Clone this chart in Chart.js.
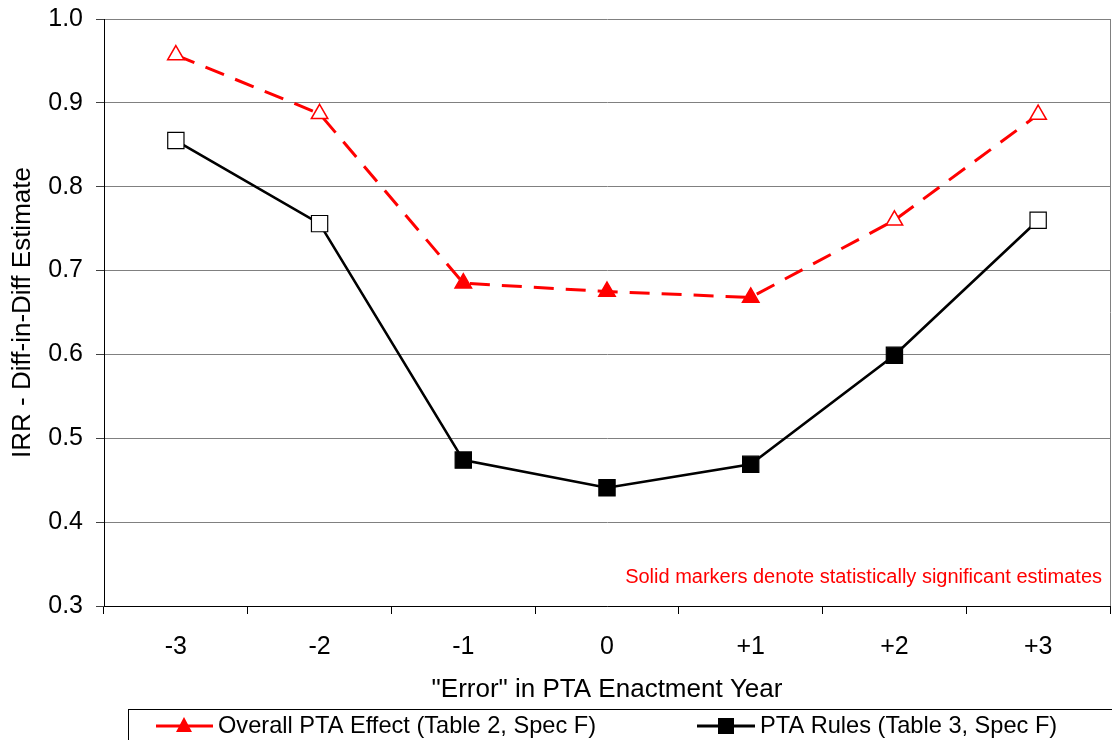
<!DOCTYPE html>
<html>
<head>
<meta charset="utf-8">
<script src="https://cdn.jsdelivr.net/npm/chart.js@4/dist/chart.umd.min.js"></script>
<style>
  html, body { margin: 0; padding: 0; background: #ffffff; }
  #wrap { width: 1112px; height: 740px; position: relative; }
</style>
</head>
<body>
<div id="wrap"><canvas id="c" width="1112" height="740"></canvas></div>
<script>
const categories = ['-3', '-2', '-1', '0', '+1', '+2', '+3'];
const overallEffect = [0.957, 0.887, 0.685, 0.675, 0.668, 0.760, 0.886];
const ptaRules = [0.855, 0.756, 0.474, 0.441, 0.469, 0.599, 0.760];
const overallSignificant = [false, false, true, true, true, false, false];
const rulesSignificant = [false, false, true, true, true, true, false];
const yMin = 0.3, yMax = 1.0, yStep = 0.1;
const seriesNames = ['Overall PTA Effect (Table 2, Spec F)', 'PTA Rules (Table 3, Spec F)'];
const noteText = 'Solid markers denote statistically significant estimates';
const xTitle = '"Error" in PTA Enactment Year';
const yTitle = 'IRR - Diff-in-Diff Estimate';

const FONT = "'Liberation Sans', Arial, Helvetica, sans-serif";
const RED = '#ff0000';
const BLACK = '#000000';

const extrasPlugin = {
  id: 'extras',
  afterDraw(chart) {
    const ctx = chart.ctx;
    const a = chart.chartArea;
    ctx.save();
    // right border of plot area
    ctx.strokeStyle = '#808080';
    ctx.lineWidth = 1;
    ctx.beginPath();
    ctx.moveTo(Math.round(a.right) + 0.5, a.top);
    ctx.lineTo(Math.round(a.right) + 0.5, a.bottom);
    ctx.stroke();
    // note
    ctx.fillStyle = RED;
    ctx.font = '20px ' + FONT;
    ctx.textAlign = 'right';
    ctx.textBaseline = 'middle';
    ctx.fillText(noteText, 1102, 577);
    // legend box
    ctx.strokeStyle = BLACK;
    ctx.lineWidth = 1;
    ctx.strokeRect(128.5, 709.5, 1100, 60);
    const ly = 726;
    // red item
    ctx.strokeStyle = RED;
    ctx.lineWidth = 3;
    ctx.beginPath(); ctx.moveTo(156, ly); ctx.lineTo(213, ly); ctx.stroke();
    ctx.fillStyle = RED;
    ctx.beginPath();
    ctx.moveTo(184, ly - 9); ctx.lineTo(192, ly + 6); ctx.lineTo(176, ly + 6); ctx.closePath();
    ctx.fill();
    ctx.fillStyle = BLACK;
    ctx.font = '23.6px ' + FONT;
    ctx.textAlign = 'left';
    ctx.fillText(seriesNames[0], 218, ly);
    // black item
    ctx.strokeStyle = BLACK;
    ctx.lineWidth = 3;
    ctx.beginPath(); ctx.moveTo(697, ly); ctx.lineTo(755, ly); ctx.stroke();
    ctx.fillRect(718, ly - 8, 16, 16);
    ctx.fillText(seriesNames[1], 760, ly);
    ctx.restore();
  }
};

new Chart(document.getElementById('c'), {
  type: 'line',
  data: {
    labels: categories,
    datasets: [
      {
        label: seriesNames[0],
        data: overallEffect,
        borderColor: RED,
        borderWidth: 3,
        borderDash: [20, 12],
        pointStyle: 'triangle',
        pointRadius: 9.5,
        pointHoverRadius: 9.5,
        pointBorderWidth: 1.5,
        pointBorderColor: RED,
        pointBackgroundColor: overallSignificant.map(s => s ? RED : '#ffffff'),
        tension: 0,
        fill: false
      },
      {
        label: seriesNames[1],
        data: ptaRules,
        borderColor: BLACK,
        borderWidth: 2.6,
        pointStyle: 'rect',
        pointRadius: 11.5,
        pointHoverRadius: 11.5,
        pointBorderWidth: 1.2,
        pointBorderColor: BLACK,
        pointBackgroundColor: rulesSignificant.map(s => s ? BLACK : '#ffffff'),
        tension: 0,
        fill: false
      }
    ]
  },
  options: {
    responsive: false,
    animation: false,
    layout: { autoPadding: false, padding: { left: 0, right: 2, top: 19, bottom: 34 } },
    plugins: {
      legend: { display: false },
      tooltip: { enabled: false }
    },
    scales: {
      x: {
        type: 'category',
        offset: true,
        afterFit(scale) {
          scale.height = 100;
          scale.paddingLeft = 0;
          scale.paddingRight = 0;
        },
        grid: {
          offset: true,
          drawOnChartArea: false,
          drawTicks: true,
          tickLength: 8,
          color: BLACK,
          tickColor: BLACK
        },
        border: { display: true, color: BLACK, width: 1 },
        ticks: {
          color: BLACK,
          font: { family: FONT, size: 25 },
          padding: 18,
          maxRotation: 0
        },
        title: {
          display: true,
          text: xTitle,
          color: BLACK,
          font: { family: FONT, size: 26 },
          padding: { top: 0, bottom: 1 }
        }
      },
      y: {
        min: yMin,
        max: yMax,
        afterFit(scale) {
          scale.width = 104;
          scale.paddingTop = 0;
          scale.paddingBottom = 0;
        },
        grid: {
          color: '#808080',
          lineWidth: 1,
          drawTicks: true,
          tickLength: 8,
          tickColor: '#404040'
        },
        border: { display: true, color: BLACK, width: 1 },
        ticks: {
          stepSize: yStep,
          color: BLACK,
          font: { family: FONT, size: 25 },
          padding: 13,
          callback: (v) => Number(v).toFixed(1)
        },
        title: {
          display: true,
          text: yTitle,
          color: BLACK,
          font: { family: FONT, size: 26 },
          padding: { top: 7, bottom: 0 }
        }
      }
    }
  },
  plugins: [extrasPlugin]
});
</script>
</body>
</html>
